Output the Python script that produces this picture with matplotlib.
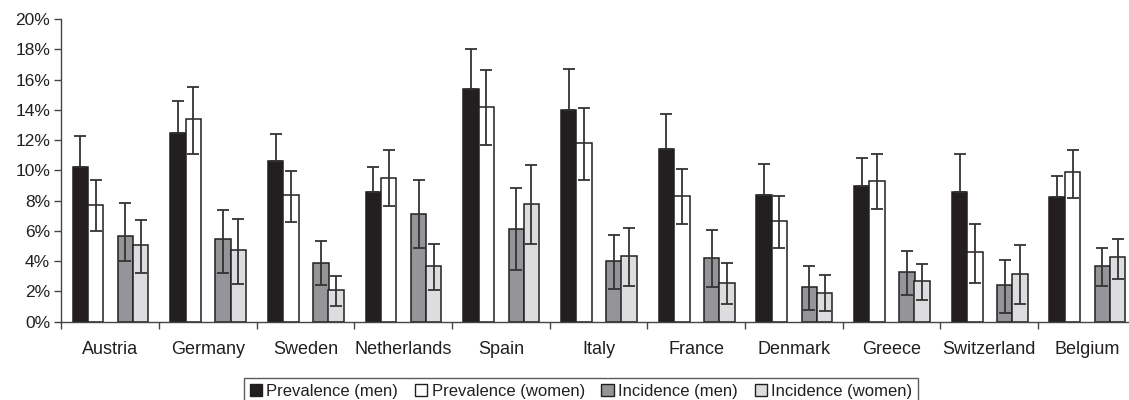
import numpy as np
import matplotlib
matplotlib.use("Agg")
import matplotlib.pyplot as plt
from matplotlib.patches import Patch
from matplotlib.ticker import FixedLocator, PercentFormatter

plt.rcParams['font.family'] = ['Liberation Sans', 'DejaVu Sans']

countries = ["Austria", "Germany", "Sweden", "Netherlands", "Spain", "Italy",
             "France", "Denmark", "Greece", "Switzerland", "Belgium"]
series = ["Prevalence (men)", "Prevalence (women)", "Incidence (men)", "Incidence (women)"]

# values and upper/lower CI limits (%); lower limit of men prevalence is hidden inside the black bar
prev_men = [10.2, 12.5, 10.6, 8.55, 15.4, 14.0, 11.4, 8.37, 8.97, 8.55, 8.22]
prev_men_hi = [12.3, 14.6, 12.4, 10.2, 18.0, 16.7, 13.7, 10.4, 10.8, 11.1, 9.63]
prev_men_lo = prev_men

prev_women = [7.71, 13.4, 8.37, 9.52, 14.2, 11.8, 8.29, 6.66, 9.3, 4.59, 9.87]
prev_women_hi = [9.37, 15.5, 9.94, 11.35, 16.6, 14.1, 10.1, 8.29, 11.1, 6.48, 11.35]
prev_women_lo = [6.01, 11.1, 6.57, 7.63, 11.7, 9.37, 6.48, 4.85, 7.47, 2.58, 8.2]

inc_men = [5.66, 5.45, 3.9, 7.14, 6.15, 3.99, 4.23, 2.27, 3.26, 2.43, 3.68]
inc_men_hi = [7.82, 7.38, 5.33, 9.37, 8.86, 5.73, 6.06, 3.68, 4.67, 4.1, 4.89]
inc_men_lo = [4.03, 3.24, 2.43, 4.85, 3.42, 2.18, 2.27, 0.77, 1.76, 0.6, 2.36]

inc_women = [5.07, 4.74, 2.1, 3.68, 7.8, 4.32, 2.58, 1.92, 2.69, 3.17, 4.26]
inc_women_hi = [6.72, 6.79, 3.02, 5.16, 10.38, 6.21, 3.9, 3.09, 3.83, 5.07, 5.49]
inc_women_lo = [3.24, 2.49, 1.04, 2.1, 5.16, 2.36, 1.19, 0.69, 1.43, 1.19, 2.84]

colors = ["#231f20", "#ffffff", "#939598", "#dcdddf"]
offsets = [-0.305, -0.148, 0.157, 0.313]
width = 0.158
edge = "#231f20"

fig = plt.figure(figsize=(11.29, 4.0), dpi=100)
ax = fig.add_axes([0.0543, 0.1958, 0.9457, 0.7567])

x = np.arange(len(countries))
data = [(prev_men, prev_men_lo, prev_men_hi),
        (prev_women, prev_women_lo, prev_women_hi),
        (inc_men, inc_men_lo, inc_men_hi),
        (inc_women, inc_women_lo, inc_women_hi)]

for k, (vals, lo, hi) in enumerate(data):
    v = np.array(vals)
    yerr = [v - np.array(lo), np.array(hi) - v]
    ax.bar(x + offsets[k], v, width, color=colors[k], edgecolor=edge,
           linewidth=1.1, zorder=2)
    ax.errorbar(x + offsets[k], v, yerr=yerr, fmt="none", ecolor="#333333",
                elinewidth=1.3, capsize=4, capthick=1.3, zorder=3)

ax.set_ylim(0, 20)
ax.set_xlim(-0.5, 10.43)
ax.set_yticks(np.arange(0, 21, 2))
ax.yaxis.set_major_formatter(PercentFormatter(decimals=0))
ax.set_xticks(x)
ax.set_xticklabels(countries, fontsize=13, color="#231f20")
ax.xaxis.set_minor_locator(FixedLocator(np.arange(-0.5, 11, 1.0)))
ax.tick_params(axis="x", which="major", length=0, pad=14)
ax.tick_params(axis="x", which="minor", length=5, width=1, color="#444444", direction="out")
ax.tick_params(axis="y", length=5, width=1, color="#444444", labelsize=12.5,
               labelcolor="#231f20", pad=3)

for s in ["top", "right"]:
    ax.spines[s].set_visible(False)
for s in ["left", "bottom"]:
    ax.spines[s].set_color("#444444")
    ax.spines[s].set_linewidth(1.0)

handles = [Patch(facecolor=c, edgecolor=edge, linewidth=1.0) for c in colors]
leg = fig.legend(handles, series, loc="upper center", bbox_to_anchor=(0.5146, 0.055),
                 ncol=4, frameon=True, fancybox=False, fontsize=12,
                 handlelength=0.75, handleheight=0.75, handletextpad=0.25,
                 columnspacing=1.0, borderpad=0.35, borderaxespad=0)
leg.get_frame().set_edgecolor("#333333")
leg.get_frame().set_linewidth(1.0)
for t in leg.get_texts():
    t.set_color("#231f20")

fig.savefig("out.png", dpi=100)
